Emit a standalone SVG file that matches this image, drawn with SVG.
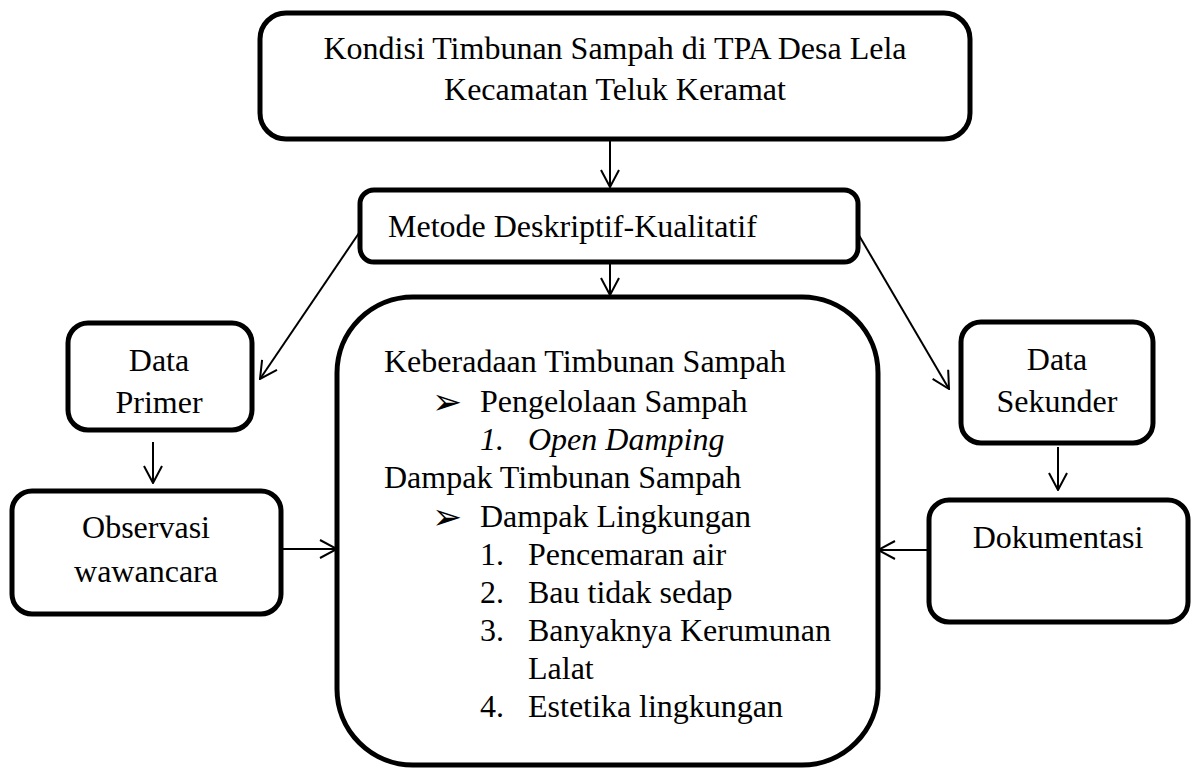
<svg xmlns="http://www.w3.org/2000/svg" width="1192" height="769" viewBox="0 0 1192 769">
<defs>
<style>
.box{fill:#fff;stroke:#000;stroke-width:5}
.t{font-family:"Liberation Serif","Times New Roman",serif;font-size:32px;fill:#000}
.c{text-anchor:middle}
.i{font-style:italic}
.bul{font-family:"DejaVu Sans",sans-serif;font-size:36px;fill:#000}
.con{fill:none;stroke:#000;stroke-width:2}
</style>
<marker id="ah" viewBox="0 0 20 20" refX="19" refY="10" markerWidth="20" markerHeight="20" markerUnits="userSpaceOnUse" orient="auto">
<path d="M2,1 L19,10 L2,19" fill="none" stroke="#000" stroke-width="2"/>
</marker>
</defs>
<rect width="1192" height="769" fill="#fff"/>
<g id="connectors">
<line class="con" x1="610" y1="141" x2="610" y2="187" marker-end="url(#ah)"/>
<line class="con" x1="610" y1="264" x2="610" y2="295" marker-end="url(#ah)"/>
<line class="con" x1="359" y1="233" x2="260" y2="379" marker-end="url(#ah)"/>
<line class="con" x1="857" y1="232" x2="949" y2="389" marker-end="url(#ah)"/>
<line class="con" x1="153" y1="442" x2="153" y2="483" marker-end="url(#ah)"/>
<line class="con" x1="1058" y1="447" x2="1058" y2="490" marker-end="url(#ah)"/>
<line class="con" x1="283" y1="549" x2="337" y2="549" marker-end="url(#ah)"/>
<line class="con" x1="928" y1="550" x2="878" y2="550" marker-end="url(#ah)"/>
</g>
<g id="node-kondisi">
<rect class="box" x="260" y="13" width="710" height="126" rx="26"/>
<text class="t c" x="615" y="59">Kondisi Timbunan Sampah di TPA Desa Lela</text>
<text class="t c" x="615" y="100">Kecamatan Teluk Keramat</text>
</g>
<g id="node-metode">
<rect class="box" x="360" y="190" width="498" height="72" rx="14"/>
<text class="t" x="388" y="237">Metode Deskriptif-Kualitatif</text>
</g>
<g id="node-main">
<rect class="box" x="337" y="297" width="541" height="468" rx="76"/>
<text class="t" x="384" y="372">Keberadaan Timbunan Sampah</text>
<text class="bul" x="432" y="414">➢</text>
<text class="t" x="480" y="412">Pengelolaan Sampah</text>
<text class="t i" x="480" y="450">1.</text>
<text class="t i" x="528" y="450">Open Damping</text>
<text class="t" x="384" y="488">Dampak Timbunan Sampah</text>
<text class="bul" x="432" y="529">➢</text>
<text class="t" x="480" y="527">Dampak Lingkungan</text>
<text class="t" x="480" y="565">1.</text>
<text class="t" x="528" y="565">Pencemaran air</text>
<text class="t" x="480" y="603">2.</text>
<text class="t" x="528" y="603">Bau tidak sedap</text>
<text class="t" x="480" y="641">3.</text>
<text class="t" x="528" y="641">Banyaknya Kerumunan</text>
<text class="t" x="528" y="679">Lalat</text>
<text class="t" x="480" y="717">4.</text>
<text class="t" x="528" y="717">Estetika lingkungan</text>
</g>
<g id="node-primer">
<rect class="box" x="68" y="323" width="184" height="107" rx="20"/>
<text class="t c" x="159" y="371">Data</text>
<text class="t c" x="159" y="413">Primer</text>
</g>
<g id="node-observasi">
<rect class="box" x="12" y="491" width="269" height="123" rx="20"/>
<text class="t c" x="146" y="538">Observasi</text>
<text class="t c" x="146" y="582">wawancara</text>
</g>
<g id="node-sekunder">
<rect class="box" x="961" y="322" width="192" height="121" rx="20"/>
<text class="t c" x="1057" y="370">Data</text>
<text class="t c" x="1057" y="412">Sekunder</text>
</g>
<g id="node-dokumentasi">
<rect class="box" x="929" y="500" width="259" height="122" rx="20"/>
<text class="t c" x="1058" y="548">Dokumentasi</text>
</g>
</svg>
